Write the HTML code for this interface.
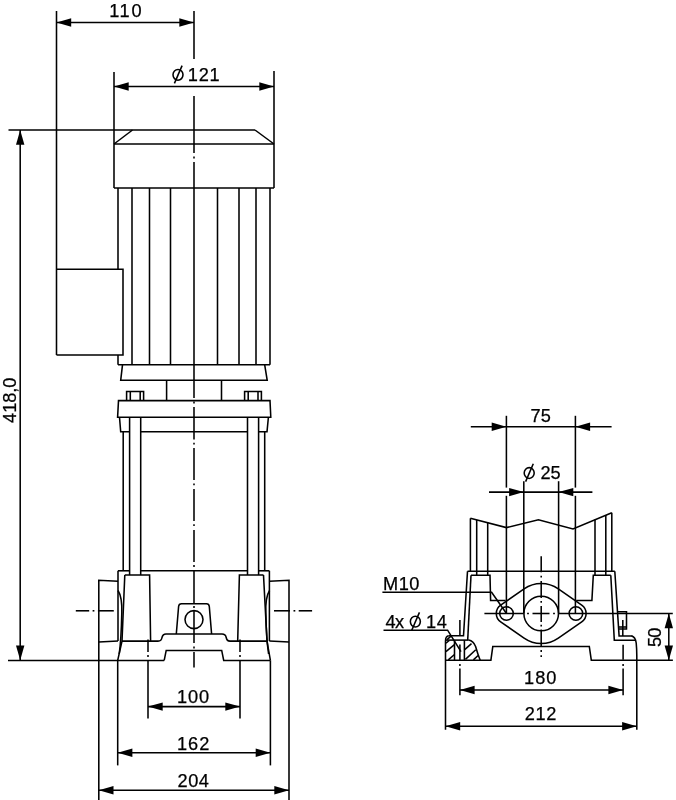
<!DOCTYPE html>
<html><head><meta charset="utf-8"><title>Pump dimension drawing</title>
<style>
html,body{margin:0;padding:0;background:#fff;}
svg{display:block;filter:blur(0.3px);}
svg line,svg path,svg circle,svg ellipse{stroke:#000;stroke-width:1.55;fill:none;stroke-linecap:butt;stroke-linejoin:miter;}
svg .a{fill:#000;stroke:none;}
svg text{font-family:"Liberation Sans",sans-serif;font-size:18.2px;fill:#000;stroke:#000;stroke-width:0.25px;}
svg .h{fill:none;stroke:none;}
</style></head>
<body>
<svg width="676" height="800" viewBox="0 0 676 800">
<rect x="0" y="0" width="676" height="800" fill="#ffffff" stroke="none"/>
<line x1="56.5" y1="11" x2="56.5" y2="355"/>
<line x1="56.5" y1="22.5" x2="194" y2="22.5"/>
<polygon class="a" points="56.50,22.50 71.20,18.30 71.20,26.70"/>
<polygon class="a" points="194.00,22.50 179.30,26.70 179.30,18.30"/>
<text y="16.9"><tspan x="109.2" letter-spacing="1.66">110</tspan></text>
<line x1="194" y1="11" x2="194" y2="59"/>
<line x1="194" y1="96" x2="194" y2="153"/>
<line x1="194" y1="156.6" x2="194" y2="158.4"/>
<line x1="194" y1="162" x2="194" y2="398"/>
<line x1="194" y1="401.6" x2="194" y2="403.4"/>
<line x1="194" y1="407" x2="194" y2="439.5"/>
<line x1="194" y1="442.8" x2="194" y2="444.6"/>
<line x1="194" y1="448" x2="194" y2="480"/>
<line x1="194" y1="483.5" x2="194" y2="485.3"/>
<line x1="194" y1="489" x2="194" y2="521"/>
<line x1="194" y1="524.3" x2="194" y2="526.1"/>
<line x1="194" y1="530" x2="194" y2="562"/>
<line x1="194" y1="565.1" x2="194" y2="566.9"/>
<line x1="194" y1="570.8" x2="194" y2="603"/>
<line x1="194" y1="606.1" x2="194" y2="607.9"/>
<line x1="194" y1="611" x2="194" y2="643"/>
<line x1="194" y1="646.6" x2="194" y2="648.4"/>
<line x1="194" y1="652" x2="194" y2="667.4"/>
<line x1="114" y1="72" x2="114" y2="188"/>
<line x1="274" y1="71" x2="274" y2="188"/>
<line x1="114" y1="86.5" x2="274" y2="86.5"/>
<polygon class="a" points="114.00,86.50 128.70,82.30 128.70,90.70"/>
<polygon class="a" points="274.00,86.50 259.30,90.70 259.30,82.30"/>
<text y="80.8"><tspan x="170.75" letter-spacing="0" class="h">Ø </tspan><tspan x="187.8" letter-spacing="0.74">121</tspan></text>
<ellipse cx="178" cy="74.8" rx="5" ry="5.4" stroke-width="1.45"/>
<line x1="174.4" y1="83.4" x2="182.1" y2="65.6" stroke-width="1.3"/>
<line x1="8.5" y1="130" x2="255" y2="130"/>
<line x1="20.2" y1="130" x2="20.2" y2="660.2"/>
<polygon class="a" points="20.20,130.00 24.40,144.70 16.00,144.70"/>
<polygon class="a" points="20.20,660.20 16.00,645.50 24.40,645.50"/>
<text x="16.2" y="422.9" transform="rotate(-90 16.2 422.9)" letter-spacing="-0.05">418,0</text>
<path d="M114 144 L132.5 130"/>
<path d="M255 130 L274 144"/>
<line x1="114" y1="144" x2="274" y2="144"/>
<line x1="114" y1="188" x2="274" y2="188"/>
<line x1="118" y1="188" x2="118" y2="269.3"/>
<line x1="118" y1="355" x2="118" y2="364.8"/>
<line x1="270" y1="188" x2="270" y2="364.8"/>
<line x1="118" y1="364.8" x2="270" y2="364.8"/>
<line x1="132" y1="188" x2="132" y2="364.8"/>
<line x1="149.5" y1="188" x2="149.5" y2="364.8"/>
<line x1="170.5" y1="188" x2="170.5" y2="364.8"/>
<line x1="217.5" y1="188" x2="217.5" y2="364.8"/>
<line x1="239" y1="188" x2="239" y2="364.8"/>
<line x1="256" y1="188" x2="256" y2="364.8"/>
<path d="M56.5 269.3 L123 269.3 L123 355 L56.5 355"/>
<path d="M122.5 364.8 L120.7 380.3 L267.2 380.3 L264.7 364.8"/>
<line x1="166.6" y1="380.3" x2="166.6" y2="400.6"/>
<line x1="221.5" y1="380.3" x2="221.5" y2="400.6"/>
<path d="M126.6 400.6 L126.6 391.4 L143.6 391.4 L143.6 400.6"/>
<line x1="130.3" y1="391.4" x2="130.3" y2="400.6"/>
<line x1="140.2" y1="391.4" x2="140.2" y2="400.6"/>
<path d="M244.6 400.6 L244.6 391.4 L261.4 391.4 L261.4 400.6"/>
<line x1="248.2" y1="391.4" x2="248.2" y2="400.6"/>
<line x1="258" y1="391.4" x2="258" y2="400.6"/>
<path d="M118.5 400.6 L117.6 417.3 L270.8 417.3 L270 400.6 Z"/>
<path d="M119.5 417.3 L120.7 431.7 L129.6 431.7"/>
<path d="M268.4 417.3 L267 431.7 L258.6 431.7"/>
<line x1="140.7" y1="431.7" x2="247.5" y2="431.7"/>
<line x1="123.2" y1="431.7" x2="123.2" y2="570.8"/>
<line x1="129.6" y1="417.3" x2="129.6" y2="575"/>
<line x1="140.7" y1="417.3" x2="140.7" y2="575"/>
<line x1="247.5" y1="417.3" x2="247.5" y2="575"/>
<line x1="258.6" y1="417.3" x2="258.6" y2="575"/>
<line x1="264.7" y1="431.7" x2="264.7" y2="570.8"/>
<line x1="118" y1="570.8" x2="129.6" y2="570.8"/>
<line x1="140.7" y1="570.8" x2="247.5" y2="570.8"/>
<line x1="258.6" y1="570.8" x2="269.4" y2="570.8"/>
<path d="M124.8 575 L149.6 575 L150.6 641.1"/>
<path d="M124.8 575 L122 641.1 L117.7 660.4"/>
<path d="M263.5 575 L239.4 575 L237.7 641.1"/>
<path d="M263.5 575 L267 641.1 L270.4 660.4"/>
<line x1="118" y1="570.8" x2="118" y2="641.1"/>
<line x1="269.4" y1="570.8" x2="269.4" y2="641.1"/>
<path d="M118 590.5 Q122.3 597 121.8 613 Q121.2 640 119.2 654" stroke-width="1.2"/>
<path d="M269.6 590.5 Q265.3 597 265.8 613 Q266.4 640 268.6 654" stroke-width="1.2"/>
<path d="M118 581.2 L98.8 580.2 L98.8 800"/>
<path d="M98.8 642 L118 641.1"/>
<path d="M269.4 581.2 L289 580.2 L289 800"/>
<path d="M289 642 L269.4 641.1"/>
<line x1="75.8" y1="610.8" x2="89.2" y2="610.8"/>
<line x1="92.6" y1="610.8" x2="94.4" y2="610.8"/>
<line x1="97.9" y1="610.8" x2="113.8" y2="610.8"/>
<line x1="274" y1="610.8" x2="290" y2="610.8"/>
<line x1="293.5" y1="610.8" x2="295.3" y2="610.8"/>
<line x1="298.7" y1="610.8" x2="312.1" y2="610.8"/>
<line x1="8" y1="660.4" x2="164.2" y2="660.4"/>
<path d="M164.2 660.4 L166.2 650.4 L221.7 650.4 L223.7 660.4 L270.4 660.4"/>
<path d="M122 641.1 L158 641.1 Q161.5 641.1 162 637.5 Q162.8 634 166 634 L222 634 Q225.5 634 226.2 637.5 Q226.8 641.1 230 641.1 L267 641.1"/>
<path d="M176.3 634 L178.6 606.5 Q178.9 603.8 181.5 603.8 L206.5 603.8 Q209 603.8 209.3 606.5 L211.6 634"/>
<circle cx="194" cy="619.6" r="9"/>
<line x1="117.7" y1="660.4" x2="117.7" y2="765.4"/>
<line x1="270.4" y1="660.4" x2="270.4" y2="765.4"/>
<line x1="148" y1="639.4" x2="148" y2="652"/>
<line x1="148" y1="655.1" x2="148" y2="656.9"/>
<line x1="148" y1="660.4" x2="148" y2="718.4"/>
<line x1="240" y1="639.4" x2="240" y2="652"/>
<line x1="240" y1="655.1" x2="240" y2="656.9"/>
<line x1="240" y1="660.4" x2="240" y2="718.4"/>
<line x1="148" y1="706.6" x2="240" y2="706.6"/>
<polygon class="a" points="148.00,706.60 162.70,702.40 162.70,710.80"/>
<polygon class="a" points="240.00,706.60 225.30,710.80 225.30,702.40"/>
<text y="703.2"><tspan x="177.0" letter-spacing="0.875">100</tspan></text>
<line x1="117.7" y1="752.8" x2="270.4" y2="752.8"/>
<polygon class="a" points="117.70,752.80 132.40,748.60 132.40,757.00"/>
<polygon class="a" points="270.40,752.80 255.70,757.00 255.70,748.60"/>
<text y="749.7"><tspan x="177.0" letter-spacing="1.0">162</tspan></text>
<line x1="98.8" y1="790.2" x2="289" y2="790.2"/>
<polygon class="a" points="98.80,790.20 113.50,786.00 113.50,794.40"/>
<polygon class="a" points="289.00,790.20 274.30,794.40 274.30,786.00"/>
<text y="786.7"><tspan x="177.5" letter-spacing="0.56">204</tspan></text>
<line x1="506.4" y1="415.8" x2="506.4" y2="487.6"/>
<line x1="506.4" y1="495.8" x2="506.4" y2="613.5"/>
<line x1="575.4" y1="415.8" x2="575.4" y2="487.6"/>
<line x1="575.4" y1="495.8" x2="575.4" y2="613.5"/>
<line x1="470.8" y1="426.7" x2="611.6" y2="426.7"/>
<polygon class="a" points="506.40,426.70 491.70,430.90 491.70,422.50"/>
<polygon class="a" points="575.40,426.70 590.10,422.50 590.10,430.90"/>
<text y="422.25"><tspan x="530.4" letter-spacing="0.125">75</tspan></text>
<line x1="523.8" y1="481.2" x2="523.8" y2="613.5"/>
<line x1="558.6" y1="481.2" x2="558.6" y2="613.5"/>
<line x1="489" y1="492.1" x2="592.4" y2="492.1"/>
<polygon class="a" points="523.80,492.10 509.10,496.30 509.10,487.90"/>
<polygon class="a" points="558.60,492.10 573.30,487.90 573.30,496.30"/>
<text y="479"><tspan x="522.65" letter-spacing="0" class="h">Ø </tspan><tspan x="540.4" letter-spacing="0.1">25</tspan></text>
<ellipse cx="529.2" cy="473.0" rx="5" ry="5.4" stroke-width="1.45"/>
<line x1="525.6" y1="481.6" x2="533.3" y2="463.8" stroke-width="1.3"/>
<path d="M470.4 518.3 L506.4 527.6 L538.4 519.7 L573 528.9 L611.8 512.7"/>
<line x1="470.4" y1="518.3" x2="470.4" y2="571.2"/>
<line x1="476.7" y1="520" x2="476.7" y2="575.2"/>
<line x1="487.7" y1="522.5" x2="487.7" y2="575.2"/>
<line x1="595" y1="519.5" x2="595" y2="575.2"/>
<line x1="605.8" y1="515" x2="605.8" y2="575.2"/>
<line x1="611.8" y1="512.7" x2="611.8" y2="571.2"/>
<line x1="467.5" y1="571.2" x2="614.8" y2="571.2"/>
<path d="M471 575.2 L490 575.2 L490.6 600.5 L505.6 600.5"/>
<path d="M610.8 575.2 L593.3 575.2 L591.9 600.5 L576.2 600.5"/>
<path d="M467.5 571.2 L463.5 635.8 L448.8 635.8"/>
<path d="M448.8 635.8 Q445.5 636.2 445.5 641 L445.5 729.8"/>
<path d="M471 575.2 L467.7 640.1"/>
<line x1="446" y1="640.1" x2="468.7" y2="640.1"/>
<path d="M468.7 640.1 Q473.5 641 475.6 646.5 Q478 655 480.2 660.2"/>
<path d="M614.8 571.2 L619.1 635.9 L632.5 635.9"/>
<path d="M631.5 635.9 Q635.4 636.6 636.2 643 Q636.8 649 636.8 656 L636.8 729.8"/>
<path d="M610.8 575.2 L614.3 640.2 L635.6 640.2"/>
<path d="M617.9 611.7 L626.5 611.7 L626.5 629 L618.6 629"/>
<line x1="622.8" y1="620" x2="622.8" y2="635.9" stroke-width="1.9"/>
<line x1="618.5" y1="627" x2="626.5" y2="627" stroke-width="1.0"/>
<path d="M445.5 660.2 L490.9 660.2 L492.8 646.5 L589.3 646.5 L591.3 660.2 L672.9 660.2"/>
<line x1="454.5" y1="640.1" x2="454.5" y2="660.2"/>
<line x1="464.4" y1="640.1" x2="464.4" y2="660.2"/>
<line x1="445.9" y1="643.1" x2="449.3" y2="640.5" stroke-width="1.3"/>
<line x1="445.9" y1="651.7" x2="454.5" y2="644.6" stroke-width="1.3"/>
<line x1="448.3" y1="659.9" x2="454.5" y2="654.5" stroke-width="1.3"/>
<line x1="447" y1="639.6" x2="451" y2="636.2" stroke-width="1.3"/>
<line x1="464.4" y1="649.8" x2="471.5" y2="643.6" stroke-width="1.3"/>
<line x1="465.4" y1="659.4" x2="475.8" y2="649.8" stroke-width="1.3"/>
<line x1="473.4" y1="659.9" x2="478.1" y2="655.5" stroke-width="1.3"/>
<line x1="459.9" y1="620" x2="459.9" y2="635.6"/>
<line x1="459.9" y1="644.6" x2="459.9" y2="660"/>
<line x1="459.9" y1="664.1" x2="459.9" y2="665.9"/>
<line x1="459.9" y1="668.6" x2="459.9" y2="695.2"/>
<line x1="623.1" y1="644.7" x2="623.1" y2="659.8"/>
<line x1="623.1" y1="664.1" x2="623.1" y2="665.9"/>
<line x1="623.1" y1="668.6" x2="623.1" y2="695.2"/>
<path d="M524.08 588.86 A30 30 0 0 1 558.32 588.86 L581.72 605.12 A10.2 10.2 0 0 1 581.72 621.88 L558.32 638.14 A30 30 0 0 1 524.08 638.14 L500.68 621.88 A10.2 10.2 0 0 1 500.68 605.12 Z"/>
<circle cx="541.2" cy="613.5" r="17.3"/>
<circle cx="506.5" cy="613.5" r="6.8"/>
<circle cx="575.9" cy="613.5" r="6.8"/>
<line x1="484.4" y1="613.5" x2="523.5" y2="613.5"/>
<line x1="527.1" y1="613.5" x2="528.9" y2="613.5"/>
<line x1="532.5" y1="613.5" x2="549.5" y2="613.5"/>
<line x1="553.1" y1="613.5" x2="554.9" y2="613.5"/>
<line x1="558.5" y1="613.5" x2="672.8" y2="613.5"/>
<line x1="541.2" y1="556.2" x2="541.2" y2="572.2"/>
<line x1="541.2" y1="575.7" x2="541.2" y2="577.5"/>
<line x1="541.2" y1="581" x2="541.2" y2="598"/>
<line x1="541.2" y1="600.9" x2="541.2" y2="602.7"/>
<line x1="541.2" y1="606" x2="541.2" y2="622"/>
<line x1="541.2" y1="624.7" x2="541.2" y2="626.5"/>
<line x1="541.2" y1="629.5" x2="541.2" y2="646"/>
<line x1="541.2" y1="650.1" x2="541.2" y2="651.9"/>
<line x1="541.2" y1="655.3" x2="541.2" y2="657.1"/>
<path d="M382.4 592.2 L491.6 592.2 L506.5 613.5"/>
<text y="589.5"><tspan x="383.0" letter-spacing="0.49">M10</tspan></text>
<path d="M383.5 630.2 L447.6 630.2 L461 651.7"/>
<text y="627.6"><tspan x="385.6" letter-spacing="-0.8">4x </tspan><tspan x="408.2" letter-spacing="0" class="h">Ø </tspan><tspan x="426.1" letter-spacing="0.5">14</tspan></text>
<ellipse cx="415.35" cy="621.6" rx="5" ry="5.4" stroke-width="1.45"/>
<line x1="411.75" y1="630.2" x2="419.45" y2="612.4" stroke-width="1.3"/>
<line x1="668.8" y1="613.5" x2="668.8" y2="660.2"/>
<polygon class="a" points="668.80,613.50 673.00,628.20 664.60,628.20"/>
<polygon class="a" points="668.80,660.20 664.60,645.50 673.00,645.50"/>
<text x="661.1" y="646.95" transform="rotate(-90 661.1 646.95)" letter-spacing="-0.95">50</text>
<line x1="459.9" y1="690" x2="623.1" y2="690"/>
<polygon class="a" points="459.90,690.00 474.60,685.80 474.60,694.20"/>
<polygon class="a" points="623.10,690.00 608.40,694.20 608.40,685.80"/>
<text y="683.6"><tspan x="524.1" letter-spacing="0.93">180</tspan></text>
<line x1="445.5" y1="726.3" x2="636.8" y2="726.3"/>
<polygon class="a" points="445.50,726.30 460.20,722.10 460.20,730.50"/>
<polygon class="a" points="636.80,726.30 622.10,730.50 622.10,722.10"/>
<text y="720.4"><tspan x="524.8" letter-spacing="0.55">212</tspan></text>
</svg>
</body></html>
